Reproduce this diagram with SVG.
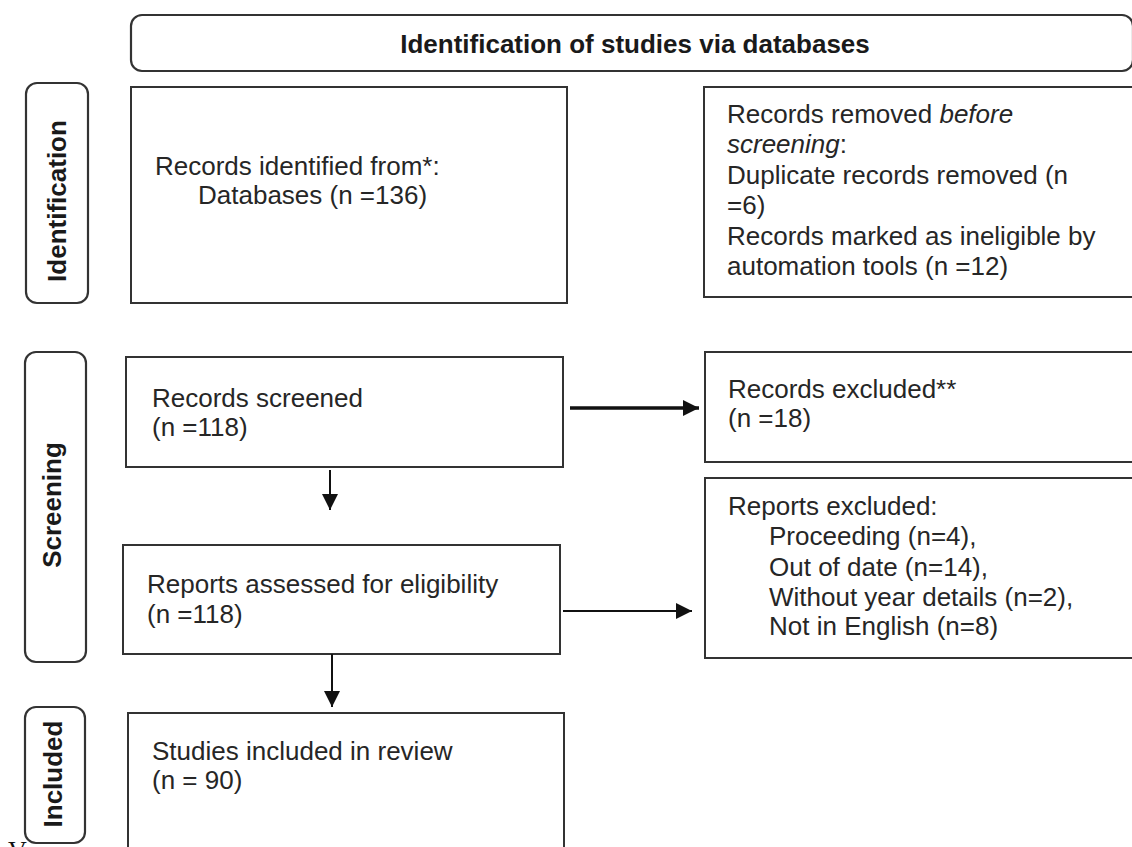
<svg xmlns="http://www.w3.org/2000/svg" width="1132" height="847" viewBox="0 0 1132 847">
<style>
.box{fill:#fff;stroke:#333;stroke-width:2}
.lab{fill:#fff;stroke:#333;stroke-width:2.2}
.t{font-family:"Liberation Sans",Arial,sans-serif;font-size:26px;fill:#262626}
.b{font-family:"Liberation Sans",Arial,sans-serif;font-size:26px;font-weight:bold;fill:#1a1a1a}
.c{fill:none;stroke:#111;stroke-width:2}
.thick{stroke-width:3.4}
</style>
<defs>
<marker id="ah" viewBox="0 0 16 16" refX="16" refY="8" markerWidth="16" markerHeight="16" markerUnits="userSpaceOnUse" orient="auto">
<path d="M0,0 L16,8 L0,16 z" fill="#111"/>
</marker>
</defs>
<rect width="1132" height="847" fill="#fff"/>
<g id="header">
<rect class="lab" x="131" y="15" width="1002" height="56" rx="11"/>
<text class="b" x="635" y="53" text-anchor="middle">Identification of studies via databases</text>
</g>
<g id="label-identification">
<rect class="lab" x="26" y="83" width="62" height="220" rx="11"/>
<text class="b" transform="translate(66,201) rotate(-90)" text-anchor="middle">Identification</text>
</g>
<g id="label-screening">
<rect class="lab" x="25" y="352" width="61" height="310" rx="11"/>
<text class="b" transform="translate(61,505) rotate(-90)" text-anchor="middle">Screening</text>
</g>
<g id="label-included">
<rect class="lab" x="25" y="707" width="60" height="136" rx="11"/>
<text class="b" transform="translate(61.5,774) rotate(-90)" text-anchor="middle">Included</text>
</g>
<g id="records-identified">
<rect class="box" x="131" y="87" width="436" height="216"/>
<text class="t" x="155" y="175">Records identified from*:</text>
<text class="t" x="198" y="204">Databases (n =136)</text>
</g>
<g id="records-removed">
<rect class="box" x="704" y="87" width="440" height="210"/>
<text class="t" x="727" y="123">Records removed <tspan font-style="italic">before</tspan></text>
<text class="t" x="727" y="153"><tspan font-style="italic">screening</tspan>:</text>
<text class="t" x="727" y="184">Duplicate records removed (n</text>
<text class="t" x="727" y="214">=6)</text>
<text class="t" x="727" y="245">Records marked as ineligible by</text>
<text class="t" x="727" y="275">automation tools (n =12)</text>
</g>
<g id="records-screened">
<rect class="box" x="126" y="357" width="437" height="110"/>
<text class="t" x="152" y="407">Records screened</text>
<text class="t" x="152" y="436">(n =118)</text>
</g>
<g id="records-excluded">
<rect class="box" x="705" y="352" width="440" height="110"/>
<text class="t" x="728" y="398">Records excluded**</text>
<text class="t" x="728" y="427">(n =18)</text>
</g>
<g id="reports-assessed">
<rect class="box" x="123" y="545" width="437" height="109"/>
<text class="t" x="147" y="593">Reports assessed for eligibility</text>
<text class="t" x="147" y="623">(n =118)</text>
</g>
<g id="reports-excluded">
<rect class="box" x="705" y="478" width="440" height="180"/>
<text class="t" x="728" y="515">Reports excluded:</text>
<text class="t" x="769" y="545">Proceeding (n=4),</text>
<text class="t" x="769" y="576">Out of date (n=14),</text>
<text class="t" x="769" y="606">Without year details (n=2),</text>
<text class="t" x="769" y="635">Not in English (n=8)</text>
</g>
<g id="studies-included">
<rect class="box" x="128" y="713" width="436" height="150"/>
<text class="t" x="152" y="760">Studies included in review</text>
<text class="t" x="152" y="789">(n = 90)</text>
</g>
<g id="connectors">
<path class="c thick" d="M570,408 H699" marker-end="url(#ah)"/>
<path class="c" d="M563,611 H692" marker-end="url(#ah)"/>
<path class="c" d="M330,470 V510" marker-end="url(#ah)"/>
<path class="c" d="M332,654 V707" marker-end="url(#ah)"/>
</g>
<text x="8" y="859" font-family="'Liberation Serif',serif" font-size="26" fill="#111">V</text>
</svg>
